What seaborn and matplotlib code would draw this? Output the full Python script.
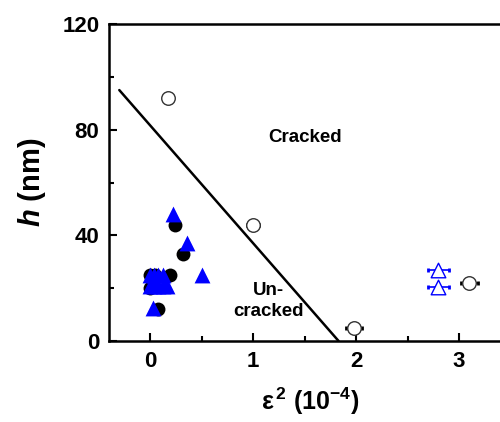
import matplotlib
matplotlib.use("Agg")
import matplotlib.pyplot as plt
import seaborn as sns
from matplotlib.ticker import MultipleLocator

sns.set_theme(style="ticks")
plt.rcParams["font.family"] = ["Liberation Sans", "DejaVu Sans"]
plt.rcParams["font.weight"] = "bold"
plt.rcParams["text.color"] = "black"
plt.rcParams["axes.labelcolor"] = "black"
plt.rcParams["xtick.color"] = "black"
plt.rcParams["ytick.color"] = "black"
plt.rcParams["mathtext.fontset"] = "custom"
plt.rcParams["mathtext.rm"] = "Liberation Sans:bold"
plt.rcParams["mathtext.bf"] = "Liberation Sans:bold"
plt.rcParams["mathtext.it"] = "Liberation Sans:bold:italic"

# filled circles (uncracked films)
circ_x = [0.24, 0.32, 0.19, 0.0, 0.05, 0.0, 0.08]
circ_y = [44, 33, 25, 25, 25, 20, 12]
# filled triangles (uncracked films)
tri_x = [0.22, 0.36, 0.50, 0.0, 0.04, 0.08, 0.12, 0.0, 0.04, 0.08, 0.12, 0.16, 0.03]
tri_y = [48, 37, 25, 25, 25, 25, 25, 21, 21, 21, 21, 21, 12.5]
# open circles (cracked films) with strain uncertainty
ocirc_x = [0.17, 1.0, 1.98, 3.1]
ocirc_y = [92, 44, 5, 22]
ocirc_xerr = [0.0, 0.06, 0.08, 0.08]
# open triangles (cracked films) with strain uncertainty
otri_x = [2.8, 2.8]
otri_y = [27, 20.5]
otri_xerr = [0.1, 0.1]
# boundary between regimes
bound_x = [-0.3, 1.83]
bound_y = [95, 0]

fig = plt.figure(figsize=(5.0, 4.22), dpi=100)
ax = fig.add_axes([0.218, 0.192, 0.803, 0.751])

ax.plot(bound_x, bound_y, color="black", lw=1.8, zorder=2)

ax.errorbar(ocirc_x, ocirc_y, xerr=ocirc_xerr, fmt="none", ecolor="black",
            elinewidth=1.2, capsize=1.5, capthick=2, zorder=2)
ax.errorbar(otri_x, otri_y, xerr=otri_xerr, fmt="none", ecolor="blue",
            elinewidth=1.2, capsize=1.5, capthick=2, zorder=2)

sns.scatterplot(x=circ_x, y=circ_y, ax=ax, marker="o", s=100, color="black",
                edgecolor="black", linewidth=0, zorder=3)
sns.scatterplot(x=tri_x, y=tri_y, ax=ax, marker="^", s=130, color="blue",
                edgecolor="blue", linewidth=0, zorder=4)
sns.scatterplot(x=ocirc_x, y=ocirc_y, ax=ax, marker="o", s=95, facecolor="white",
                edgecolor="#333333", linewidth=1.0, zorder=5)
sns.scatterplot(x=otri_x, y=otri_y, ax=ax, marker="^", s=110, facecolor="white",
                edgecolor="blue", linewidth=1.0, zorder=5)

ax.text(1.5, 77, "Cracked", ha="center", va="center", fontsize=13.5, fontweight="bold")
ax.text(1.15, 15, "Un-\ncracked", ha="center", va="center", fontsize=13.5,
        fontweight="bold", linespacing=1.3)

ax.set_xlim(-0.4, 3.5)
ax.set_ylim(0, 120)
ax.xaxis.set_major_locator(MultipleLocator(1))
ax.xaxis.set_minor_locator(MultipleLocator(0.5))
ax.yaxis.set_major_locator(MultipleLocator(40))
ax.yaxis.set_minor_locator(MultipleLocator(20))
ax.tick_params(which="both", direction="in", top=False, right=False, width=1.5)
ax.tick_params(which="major", length=6, labelsize=16, pad=7)
ax.tick_params(which="minor", length=3.5)
for lab in ax.get_xticklabels() + ax.get_yticklabels():
    lab.set_fontweight("bold")
for sp in ax.spines.values():
    sp.set_linewidth(1.8)
    sp.set_color("black")

ax.set_xlabel(r"$\mathrm{\varepsilon}^{\,2}$ (10$^{-4}$)", fontsize=18, fontweight="bold",
              labelpad=10)
ax.set_ylabel(r"$h$ (nm)", fontsize=21, fontweight="bold", labelpad=10)

fig.savefig("out.png", dpi=100)
